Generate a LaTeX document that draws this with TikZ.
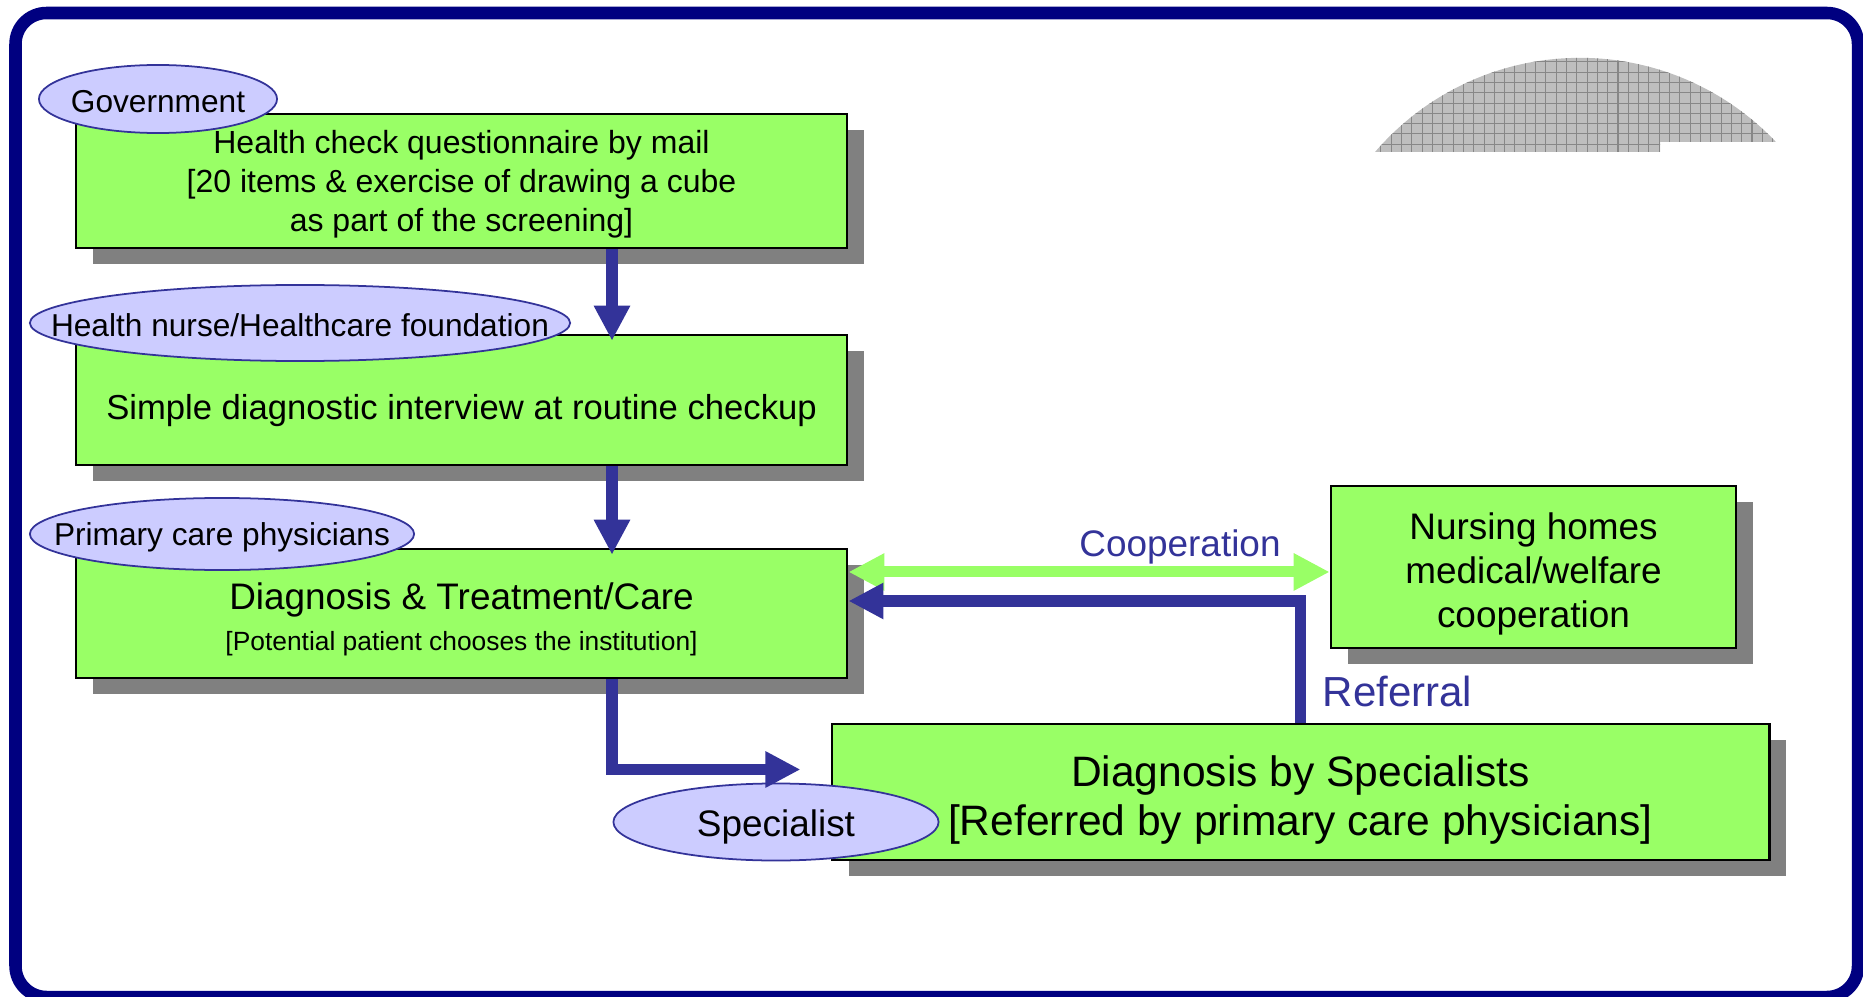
\documentclass[tikz,border=0pt]{standalone}
\usepackage{fontspec}
\setmainfont{Liberation Sans}
\usetikzlibrary{arrows.meta,shapes.geometric,shadows}

\definecolor{framenavy}{HTML}{000080}
\definecolor{stagegreen}{HTML}{99FF66}
\definecolor{stageshadow}{HTML}{808080}
\definecolor{actorfill}{HTML}{CCCCFF}
\definecolor{flowblue}{HTML}{333399}
\definecolor{domegray}{HTML}{BEBEBE}
\definecolor{domegrid}{HTML}{878787}

\newcommand{\actorname}[2][3.6pt]{\makebox[0pt]{\raisebox{-#1}[0pt][0pt]{#2}}}

\tikzset{
  stage/.style={rectangle, draw=black, line width=0.7pt, fill=stagegreen, inner sep=0pt, align=center,
    drop shadow={shadow xshift=0.17cm, shadow yshift=-0.16cm, fill=stageshadow, opacity=1}},
  actor/.style={ellipse, draw=flowblue, line width=0.5pt, fill=actorfill, inner sep=0pt,
    font=\fontsize{9}{11}\selectfont},
  flow/.style={draw=flowblue, line width=0.117cm, -{Triangle[width=0.34cm,length=0.35cm]}},
  coop/.style={draw=stagegreen, line width=0.11cm,
    {Triangle[width=0.35cm,length=0.36cm]}-{Triangle[width=0.35cm,length=0.36cm]}},
  linklabel/.style={text=flowblue, inner sep=0pt}
}

\begin{document}
\begin{tikzpicture}[x=0.01cm, y=-0.01cm]
  \useasboundingbox (0,0) rectangle (1863,997);
  \clip (0,0) rectangle (1863,997);

  %Frame
  \draw[framenavy, line width=0.125cm, rounded corners=0.31cm] (15.5,13) rectangle (1858,997);

  %Dome
  \begin{scope}
    \clip (1580,328) circle [radius=2.7cm];
    \clip (1300,40) -- (1800,40) -- (1800,142) -- (1660,142) -- (1660,152) -- (1300,152) -- cycle;
    \fill[domegray] (1300,40) rectangle (1800,160);
    \draw[domegrid, line width=0.3pt, step=0.103cm] (1300,160) grid (1800,40);
  \end{scope}

  %Stages
  \node[stage, minimum width=7.71cm, minimum height=1.34cm, font=\fontsize{9.1}{11.1}\selectfont]
    (quest) at (461.5,181) {\rule{0pt}{8.6pt}Health check questionnaire by mail\\{}[20 items \& exercise of drawing a cube\\ as part of the screening]};
  \node[stage, minimum width=7.71cm, minimum height=1.30cm, font=\fontsize{9.85}{12}\selectfont]
    (interview) at (461.5,400) {\rule{0pt}{13pt}Simple diagnostic interview at routine checkup};
  \node[stage, minimum width=7.71cm, minimum height=1.29cm, font=\fontsize{10.5}{12}\selectfont]
    (diag) at (461.5,613.5) {\rule{0pt}{10.8pt}Diagnosis \& Treatment/Care\\[-0.4pt]{}{\fontsize{7.5}{9}\selectfont [Potential patient chooses the institution]}};
  \node[stage, minimum width=4.05cm, minimum height=1.62cm, font=\fontsize{10.5}{12.5}\selectfont]
    (homes) at (1533.5,567) {\rule{0pt}{11.4pt}Nursing homes\\ medical/welfare\\ cooperation};
  \node[stage, minimum width=9.37cm, minimum height=1.36cm, font=\fontsize{12.1}{14.8}\selectfont]
    (spec) at (1300.5,792) {\rule{0pt}{13.3pt}Diagnosis by Specialists\\[-1.1pt]{}[Referred by primary care physicians]};

  %Actors
  \node[actor, minimum width=2.38cm, minimum height=0.68cm] (gov) at (158,99) {\actorname[3.7pt]{Government}};
  \node[actor, minimum width=5.40cm, minimum height=0.76cm] (nurse) at (300,323) {\actorname[3.7pt]{Health nurse/Healthcare foundation}};
  \node[actor, minimum width=3.84cm, minimum height=0.72cm] (pcp) at (222,534) {\actorname[3.2pt]{Primary care physicians}};
  \node[actor, minimum width=3.25cm, minimum height=0.77cm, font=\fontsize{10.5}{12}\selectfont]
    (specialist) at (776,822) {\actorname[4.2pt]{Specialist}};

  %Connectors
  \coordinate (spine) at (612,0);
  \draw[flow, shorten >=-0.07cm] (spine |- quest.south) -- (spine |- interview.north);
  \draw[flow, shorten >=-0.07cm] (spine |- interview.south) -- (spine |- diag.north);
  \draw[flow, shorten >=0.30cm] (spine |- diag.south) |- ([yshift=0.225cm]spec.west);
  \draw[coop] ([yshift=0.415cm]diag.east) -- ([yshift=0.415cm]diag.east -| homes.west);
  \draw[flow] (spec.north) |- ([yshift=0.125cm]diag.east);

  %Labels
  \node[linklabel, font=\fontsize{10.5}{12}\selectfont] (cooplabel) at (1180,547) {Cooperation};
  \node[linklabel, font=\fontsize{11.95}{14}\selectfont, anchor=west] (referlabel) at (1322,691) {Referral};
\end{tikzpicture}
\end{document}
